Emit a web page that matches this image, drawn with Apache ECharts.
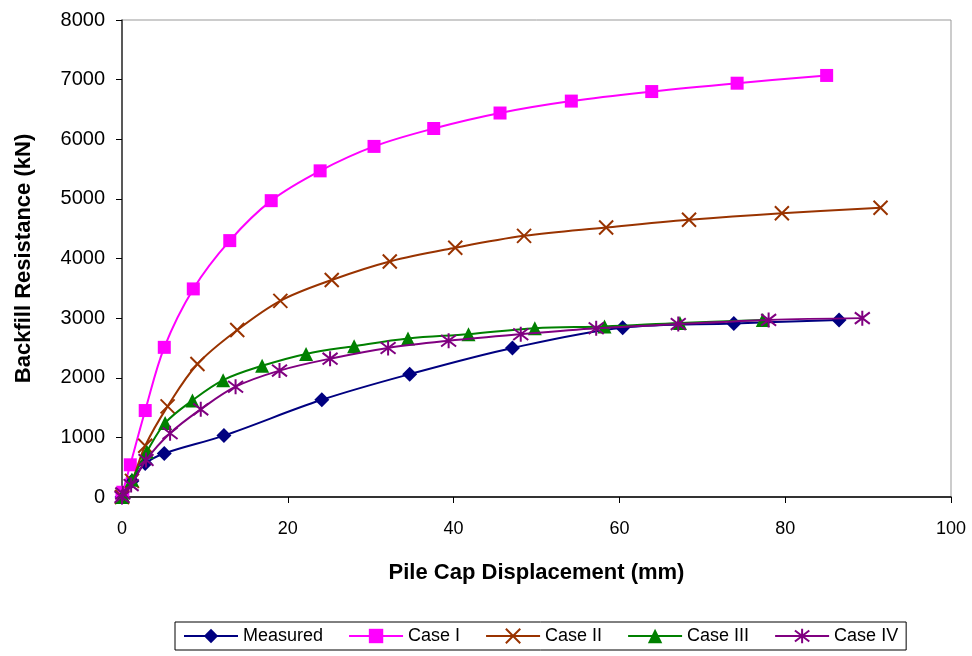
<!DOCTYPE html>
<html>
<head>
<meta charset="utf-8">
<script src="https://cdn.jsdelivr.net/npm/echarts@6/dist/echarts.min.js"></script>
<style>
html,body{margin:0;padding:0;background:#fff;}
#chart{width:972px;height:656px;}
</style>
</head>
<body>
<div id="chart"></div>
<script>
// ---- data ----
const seriesNames = ['Measured', 'Case I', 'Case II', 'Case III', 'Case IV'];

const measuredX = [0, 1.2, 2.8, 5.1, 12.3, 24.1, 34.7, 47.1, 60.4, 73.8, 86.5];
const measuredY = [0, 270, 560, 730, 1030, 1630, 2060, 2500, 2840, 2910, 2970];

const case1X = [0, 0.1, 1.0, 2.8, 5.1, 8.6, 13.0, 18.0, 23.9, 30.4, 37.6, 45.6, 54.2, 63.9, 74.2, 85.0];
const case1Y = [0, 80, 540, 1450, 2510, 3490, 4300, 4970, 5470, 5880, 6180, 6440, 6640, 6800, 6940, 7070];

const case2X = [0, 1.2, 2.8, 5.5, 9.1, 13.9, 19.1, 25.3, 32.3, 40.2, 48.5, 58.4, 68.4, 79.6, 91.5];
const case2Y = [0, 270, 860, 1520, 2230, 2800, 3290, 3640, 3950, 4180, 4380, 4520, 4650, 4760, 4850];

const case3X = [0, 0.1, 1.2, 3.0, 5.2, 8.5, 12.2, 16.9, 22.2, 28.0, 34.5, 41.8, 49.8, 58.2, 67.3, 77.3];
const case3Y = [0, 30, 290, 760, 1240, 1620, 1960, 2200, 2400, 2530, 2660, 2730, 2830, 2860, 2920, 2970];

const case4X = [0, 0.1, 1.1, 2.9, 5.8, 9.5, 13.7, 19.0, 25.1, 32.1, 39.4, 48.1, 57.2, 67.1, 78.0, 89.3];
const case4Y = [0, 60, 200, 620, 1070, 1470, 1850, 2120, 2320, 2500, 2620, 2730, 2830, 2900, 2970, 3000];

const xTicks = [0, 20, 40, 60, 80, 100];
const yTicks = [0, 1000, 2000, 3000, 4000, 5000, 6000, 7000, 8000];

// ---- styling ----
const colors = ['#000080', '#FF00FF', '#993300', '#008000', '#800080'];
const SYM_X = 'path://M0,0L10,10M10,0L0,10';
const SYM_STAR = 'path://M0,0L10,10M10,0L0,10M5,-1.5L5,11.5';
const symbols = ['diamond', 'rect', SYM_X, 'triangle', SYM_STAR];
const symbolSizes = [15, 13, 14, 14, 15];
const strokeOnly = [false, false, true, false, true];

function zip(xs, ys) { return xs.map((x, i) => [x, ys[i]]); }
const dataSets = [zip(measuredX, measuredY), zip(case1X, case1Y), zip(case2X, case2Y), zip(case3X, case3Y), zip(case4X, case4Y)];

const FONT = "'Liberation Sans', Arial, sans-serif";

const series = seriesNames.map((name, i) => ({
  name: name,
  type: 'line',
  data: dataSets[i],
  smooth: 0.35,
  symbol: symbols[i],
  symbolSize: symbolSizes[i],
  showAllSymbol: true,
  lineStyle: { color: colors[i], width: 2 },
  itemStyle: strokeOnly[i]
    ? { color: colors[i], borderColor: colors[i], borderWidth: 2 }
    : { color: colors[i], borderColor: colors[i], borderWidth: 0 },
  emphasis: { disabled: true },
  z: 2 + i
}));

const chart = echarts.init(document.getElementById('chart'), null, { renderer: 'canvas' });
chart.setOption({
  animation: false,
  backgroundColor: '#fff',
  grid: {
    left: 122, right: 21, top: 20, bottom: 159,
    show: true, borderColor: '#999', borderWidth: 1, backgroundColor: 'transparent'
  },
  legend: {
    data: seriesNames,
    left: 175, top: 622,
    itemWidth: 54, itemHeight: 18, itemGap: 25,
    padding: [5, 8, 5, 8],
    borderColor: '#000', borderWidth: 1,
    textStyle: { fontFamily: FONT, fontSize: 18, color: '#000' }
  },
  xAxis: {
    type: 'value', min: 0, max: 100, interval: 20,
    name: 'Pile Cap Displacement (mm)', nameLocation: 'middle', nameGap: 65,
    nameTextStyle: { fontFamily: FONT, fontSize: 22, fontWeight: 'bold', color: '#000' },
    axisLine: { show: true, onZero: false, lineStyle: { color: '#000', width: 1.5 } },
    axisTick: { show: true, inside: false, length: 6, lineStyle: { color: '#000' } },
    axisLabel: { fontFamily: FONT, fontSize: 18, color: '#000', margin: 23,
      formatter: v => xTicks.includes(v) ? String(v) : '' },
    splitLine: { show: false }
  },
  yAxis: {
    type: 'value', min: 0, max: 8000, interval: 1000,
    name: 'Backfill Resistance (kN)', nameLocation: 'middle', nameGap: 87, nameRotate: 90,
    nameTextStyle: { fontFamily: FONT, fontSize: 22, fontWeight: 'bold', color: '#000' },
    axisLine: { show: true, onZero: false, lineStyle: { color: '#333', width: 1.5 } },
    axisTick: { show: true, inside: false, length: 6, lineStyle: { color: '#000' } },
    axisLabel: { fontFamily: FONT, fontSize: 20, color: '#000', margin: 17,
      formatter: v => yTicks.includes(v) ? String(v) : '' },
    splitLine: { show: false }
  },
  series: series
});
</script>
</body>
</html>
